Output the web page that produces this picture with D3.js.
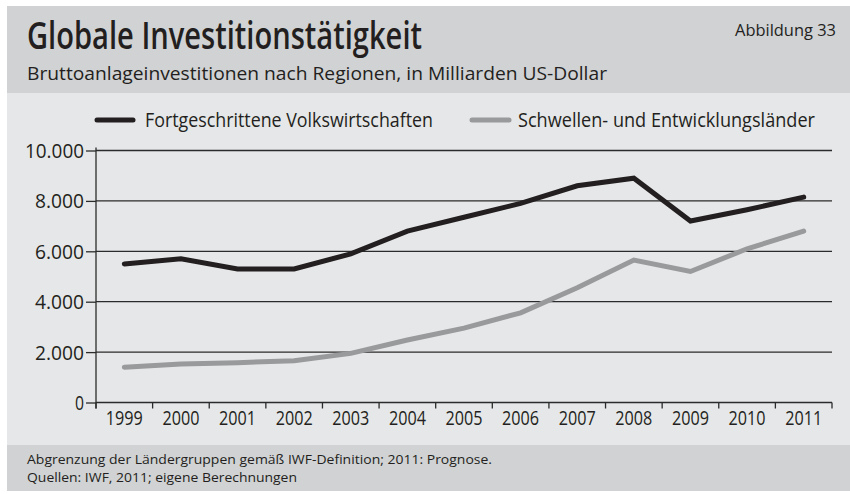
<!DOCTYPE html>
<html><head><meta charset="utf-8">
<script src="https://cdn.jsdelivr.net/npm/d3@7/dist/d3.min.js"></script>
<style>
html,body{margin:0;padding:0;background:#fff;}
svg{display:block;}
text{font-family:"Open Sans","Lato",sans-serif;fill:#231f20;}
</style></head>
<body>
<svg id="chart" width="850" height="494"></svg>
<script>
const years = ["1999","2000","2001","2002","2003","2004","2005","2006","2007","2008","2009","2010","2011"];
const advanced = [5500,5700,5300,5300,5900,6800,7350,7900,8600,8900,7200,7650,8150];
const emerging = [1400,1530,1580,1660,1950,2480,2950,3560,4550,5650,5200,6100,6800];
const yTicks = [0,2000,4000,6000,8000,10000];
const seriesNames = ["Fortgeschrittene Volkswirtschaften","Schwellen- und Entwicklungsländer"];
const seriesColors = ["#231f20","#999a9c"];
const title = "Globale Investitionstätigkeit";
const subtitle = "Bruttoanlageinvestitionen nach Regionen, in Milliarden US-Dollar";
const figLabel = "Abbildung 33";
const notes = ["Abgrenzung der Ländergruppen gemäß IWF-Definition; 2011: Prognose.","Quellen: IWF, 2011; eigene Berechnungen"];

const svg = d3.select("#chart");
const W = 850, H = 494;
const frame = {x0:7, y0:6, headerEnd:93, footerStart:445, y1:491};
const plot = {left:96, right:832, top:150.5, bottom:402.5};

svg.append("rect").attr("x",frame.x0).attr("y",frame.y0).attr("width",W-frame.x0).attr("height",frame.headerEnd-frame.y0).attr("fill","#d1d2d4");
svg.append("rect").attr("x",frame.x0).attr("y",frame.headerEnd).attr("width",W-frame.x0).attr("height",frame.footerStart-frame.headerEnd).attr("fill","#e6e7e8");
svg.append("rect").attr("x",frame.x0).attr("y",frame.footerStart).attr("width",W-frame.x0).attr("height",frame.y1-frame.footerStart).attr("fill","#d1d2d4");

function txt(s, x, y, size, width, opts={}) {
  const t = svg.append("text").attr("x",x).attr("y",y).attr("font-size",size).text(s);
  if (opts.weight) t.attr("font-weight",opts.weight);
  if (opts.anchor) t.attr("text-anchor",opts.anchor);
  if (width) t.attr("textLength",width).attr("lengthAdjust","spacingAndGlyphs");
  return t;
}
txt(title, 27, 49, 37, 395, {weight:600});
txt(figLabel, 836, 36, 17, 101, {anchor:"end"});
txt(subtitle, 27, 80, 19, 580);
txt(notes[0], 27, 464, 13, 465);
txt(notes[1], 27, 482, 13, 270);

const x = d3.scaleBand().domain(years).range([plot.left, plot.right]).paddingInner(0).paddingOuter(0);
const y = d3.scaleLinear().domain([0,10000]).range([plot.bottom, plot.top]);
const de = d3.formatLocale({decimal:",", thousands:".", grouping:[3], currency:["","€"]});
const fmt = de.format(",.0f");

svg.append("g").selectAll("line").data(yTicks).join("line")
  .attr("x1",plot.left).attr("x2",plot.right)
  .attr("y1",d=>y(d)).attr("y2",d=>y(d))
  .attr("stroke","#2b2b2b").attr("stroke-width",1.3);

const yAxis = svg.append("g").attr("transform",`translate(${plot.left},0)`)
  .call(d3.axisLeft(y).tickValues(yTicks).tickFormat(fmt).tickSize(10).tickPadding(2));
yAxis.select(".domain").remove();
yAxis.selectAll(".tick line").attr("stroke","#2b2b2b").attr("stroke-width",1.3);
yAxis.selectAll(".tick text").attr("font-size",19.5).attr("font-family",null).attr("fill","#231f20").attr("dy","0.36em")
  .each(function(d){ const w = String(fmt(d)).length; d3.select(this).attr("textLength", d===0 ? 9 : (w===6?59:49)).attr("lengthAdjust","spacingAndGlyphs"); });
svg.append("line").attr("x1",plot.left).attr("x2",plot.left).attr("y1",plot.top-3).attr("y2",plot.bottom+6)
  .attr("stroke","#2b2b2b").attr("stroke-width",1.3);

const xAxis = svg.append("g").attr("transform",`translate(0,${plot.bottom})`)
  .call(d3.axisBottom(x).tickSize(0).tickPadding(9));
xAxis.select(".domain").remove();
xAxis.selectAll(".tick text").attr("font-size",19.5).attr("font-family",null).attr("fill","#231f20")
  .attr("textLength",37).attr("lengthAdjust","spacingAndGlyphs");
const bounds = years.map(d=>x(d)).concat([x(years[years.length-1])+x.bandwidth()]);
svg.append("g").selectAll("line").data(bounds).join("line")
  .attr("x1",d=>d).attr("x2",d=>d).attr("y1",plot.bottom).attr("y2",plot.bottom+6)
  .attr("stroke","#2b2b2b").attr("stroke-width",1.3);

const line = d3.line().x((d,i)=>x(years[i])+x.bandwidth()/2).y(d=>y(d));
[emerging, advanced].forEach((s,k)=>{
  const idx = k===0 ? 1 : 0;
  svg.append("path").datum(s).attr("d",line).attr("fill","none")
    .attr("stroke",seriesColors[idx]).attr("stroke-width",5)
    .attr("stroke-linejoin","miter").attr("stroke-linecap","round");
});

const legend = [
  {x1:97, x2:133, tx:145, w:288},
  {x1:472, x2:509, tx:518, w:297}
];
legend.forEach((l,i)=>{
  svg.append("line").attr("x1",l.x1).attr("x2",l.x2).attr("y1",120).attr("y2",120)
    .attr("stroke",seriesColors[i]).attr("stroke-width",5).attr("stroke-linecap","round");
  txt(seriesNames[i], l.tx, 127, 20, l.w);
});
</script>
</body></html>
